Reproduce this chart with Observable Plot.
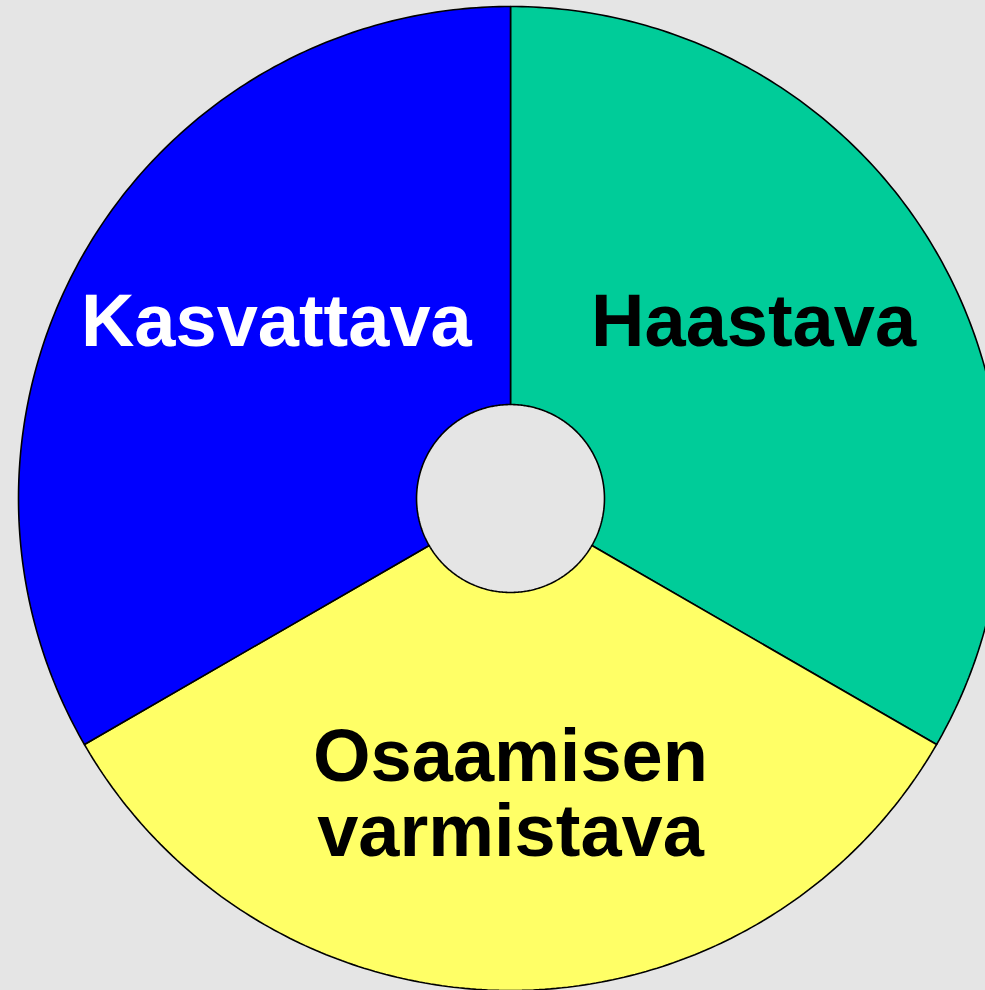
<!DOCTYPE html>
<html>
<head>
<meta charset="utf-8">
<script src="https://cdn.jsdelivr.net/npm/d3@7"></script>
<script src="https://cdn.jsdelivr.net/npm/@observablehq/plot@0.6"></script>
<style>
  html, body { margin: 0; padding: 0; background: #e5e5e5; overflow: hidden; }
  #chart svg { display: block; }
</style>
</head>
<body>
<div id="chart"></div>
<script>
// Data
const categories = ["Haastava", "Osaamisen varmistava", "Kasvattava"];
const values = [1, 1, 1];
const labelTexts = ["Haastava", "Osaamisen\nvarmistava", "Kasvattava"];
const sliceColors = ["#00cc99", "#ffff66", "#0000ff"];
const textColors = ["#000000", "#000000", "#ffffff"];

// Layout (unit-circle coordinates)
const innerRadius = 0.191;
const labelPos = [[0.494, 0.358], [0, -0.602], [-0.476, 0.358]];

const arcs = d3.pie().sort(null).value(d => d)(values);
const steps = 180;
function slicePolygon(a) {
  const pts = [];
  for (let i = 0; i <= steps; i++) {
    const t = a.startAngle + (a.endAngle - a.startAngle) * i / steps;
    pts.push({x: Math.sin(t), y: Math.cos(t)});
  }
  for (let i = steps; i >= 0; i--) {
    const t = a.startAngle + (a.endAngle - a.startAngle) * i / steps;
    pts.push({x: innerRadius * Math.sin(t), y: innerRadius * Math.cos(t)});
  }
  pts.push(pts[0]);
  return pts;
}

const sliceMarks = arcs.map((a, i) =>
  Plot.line(slicePolygon(a), {
    x: "x", y: "y",
    fill: sliceColors[i],
    stroke: "black",
    strokeWidth: 1.6,
    strokeLinejoin: "miter"
  })
);

const labels = categories.map((c, i) => ({
  name: labelTexts[i],
  x: labelPos[i][0],
  y: labelPos[i][1],
  color: textColors[i]
}));

const chart = Plot.plot({
  width: 985,
  height: 990,
  margin: 0,
  style: { background: "#e5e5e5", overflow: "hidden" },
  x: { domain: [-1, 1], range: [18, 1002], axis: null },
  y: { domain: [1, -1], range: [6, 990], axis: null },
  marks: [
    ...sliceMarks,
    Plot.text(labels, {
      x: "x", y: "y", text: "name",
      fill: d => d.color,
      textAnchor: "middle",
      lineAnchor: "middle",
      lineHeight: 1.01,
      fontSize: 74,
      fontWeight: "bold",
      fontFamily: "Liberation Sans, Arial, Helvetica, sans-serif"
    })
  ]
});
document.getElementById("chart").appendChild(chart);
</script>
</body>
</html>
